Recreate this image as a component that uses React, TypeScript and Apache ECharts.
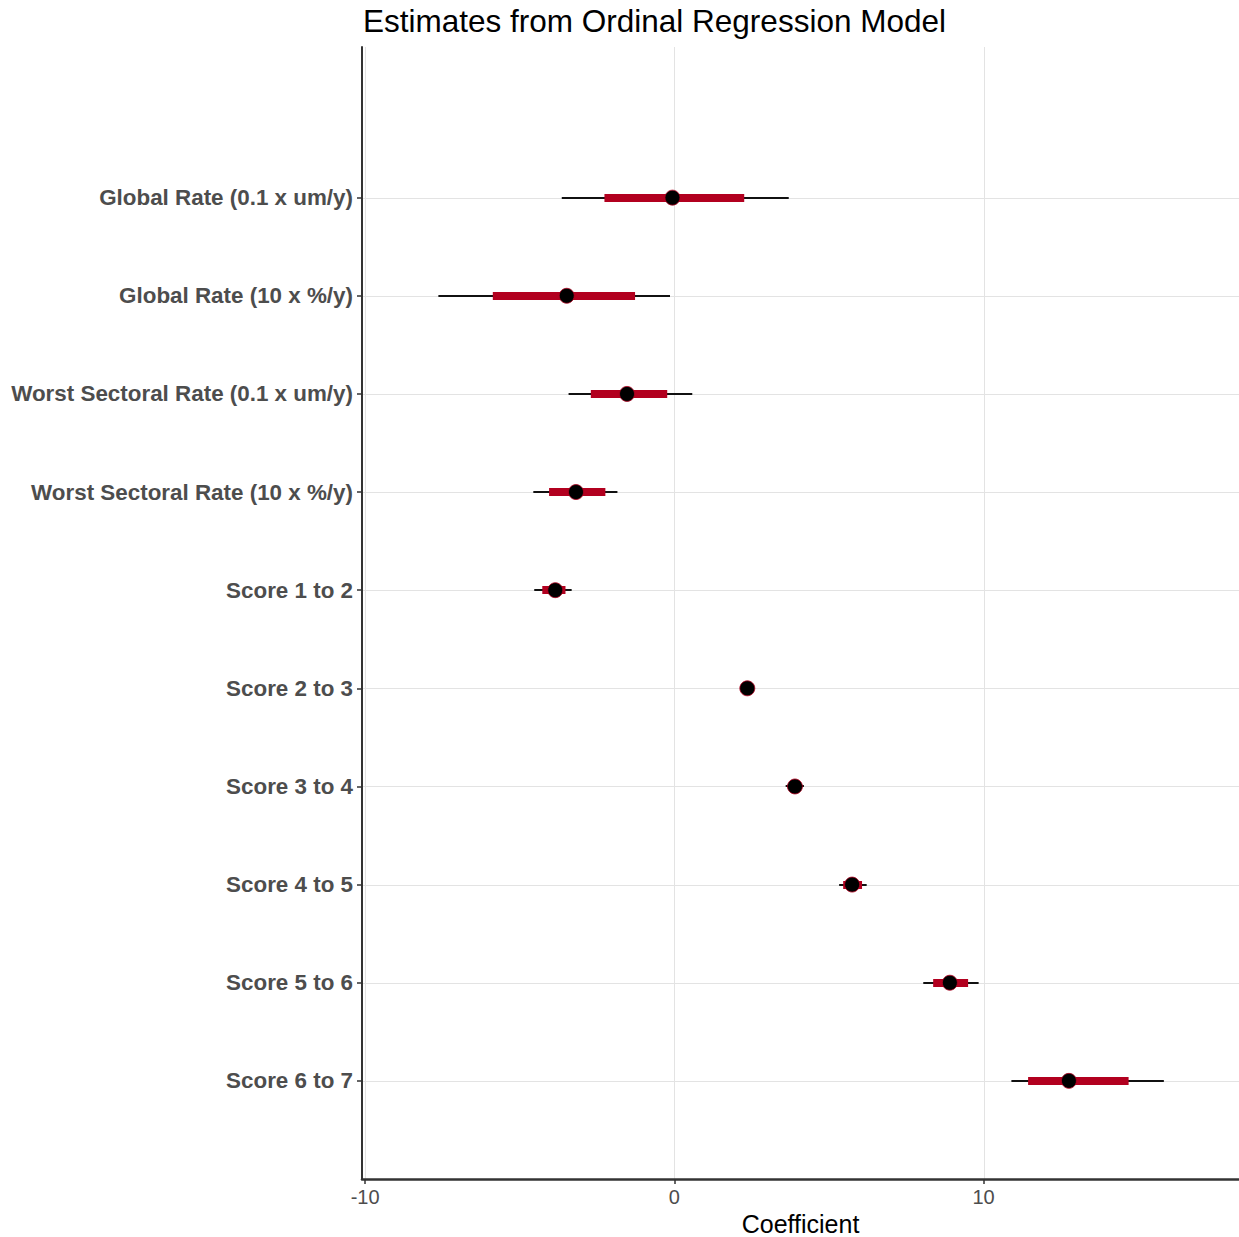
import React, { useEffect, useRef } from "react";
import * as echarts from "echarts";

// Terms listed top to bottom
const terms = [
  "Global Rate (0.1 x um/y)",
  "Global Rate (10 x %/y)",
  "Worst Sectoral Rate (0.1 x um/y)",
  "Worst Sectoral Rate (10 x %/y)",
  "Score 1 to 2",
  "Score 2 to 3",
  "Score 3 to 4",
  "Score 4 to 5",
  "Score 5 to 6",
  "Score 6 to 7",
];
const estimate = [-0.06, -3.48, -1.53, -3.18, -3.85, 2.36, 3.9, 5.75, 8.91, 12.76];
const outerLow = [-3.64, -7.63, -3.42, -4.56, -4.53, 2.24, 3.6, 5.33, 8.05, 10.9];
const outerHigh = [3.7, -0.14, 0.58, -1.84, -3.32, 2.48, 4.19, 6.22, 9.84, 15.83];
const innerLow = [-2.26, -5.87, -2.7, -4.05, -4.27, 2.3, 3.72, 5.46, 8.37, 11.44];
const innerHigh = [2.26, -1.27, -0.23, -2.23, -3.52, 2.42, 4.08, 6.07, 9.5, 14.69];
const xTicks = [-10, 0, 10];

const FONT = "'Liberation Sans', Arial, sans-serif";
const RED = "#b2001f";
const GRID = "#e3e3e3";

export default function App() {
  const ref = useRef<HTMLDivElement>(null);
  useEffect(() => {
    if (!ref.current) return;
    const chart = echarts.init(ref.current, undefined, { renderer: "svg" });
    const n = terms.length;
    const yPos = terms.map((_, i) => n - i);
    const labelMap: Record<number, string> = {};
    yPos.forEach((p, i) => (labelMap[p] = terms[i]));

    const outerData = terms.map((_, i) => [outerLow[i], outerHigh[i], yPos[i]]);
    const innerData = terms.map((_, i) => [innerLow[i], innerHigh[i], yPos[i]]);
    const pointData = terms.map((_, i) => [estimate[i], yPos[i]]);
    // gridline data: [kind, value] kind 0 = horizontal at y, 1 = vertical at x
    const gridData = [...yPos.map((p) => [0, p]), ...xTicks.map((t) => [1, t])];

    chart.setOption({
      animation: false,
      title: {
        text: "Estimates from Ordinal Regression Model",
        left: 363,
        top: 5,
        padding: 0,
        textStyle: { fontFamily: FONT, fontSize: 31.5, fontWeight: "normal", color: "#000" },
      },
      grid: {
        left: 362,
        right: 0,
        top: 47,
        bottom: 58,
        containLabel: false,
        outerBoundsMode: "none",
      },
      xAxis: {
        type: "value",
        min: -10.1,
        max: 18.26,
        name: "Coefficient",
        nameLocation: "middle",
        nameGap: 26,
        nameTextStyle: { fontFamily: FONT, fontSize: 25, color: "#000" },
        axisLine: { show: true, onZero: false, lineStyle: { color: "#333", width: 2.5 } },
        axisTick: { show: true, customValues: xTicks, length: 5, lineStyle: { color: "#333", width: 1.5 } },
        axisLabel: {
          customValues: xTicks,
          fontFamily: FONT,
          fontSize: 20,
          color: "#4d4d4d",
          margin: 8,
        },
        splitLine: { show: false },
      },
      yAxis: {
        type: "value",
        min: 0,
        max: 11.535,
        axisLine: { show: true, onZero: false, lineStyle: { color: "#333", width: 2 } },
        axisTick: { show: true, customValues: yPos, length: 5, lineStyle: { color: "#333", width: 1.5 } },
        axisLabel: {
          customValues: yPos,
          formatter: (v: number) => labelMap[Math.round(v)] || "",
          fontFamily: FONT,
          fontSize: 22.4,
          fontWeight: "bold",
          color: "#4d4d4d",
          margin: 9,
        },
        splitLine: { show: false },
      },
      series: [
        {
          type: "custom",
          silent: true,
          z: 0,
          data: gridData,
          encode: { x: -1, y: -1 },
          clip: true,
          renderItem: (params: any, api: any) => {
            const cs = params.coordSys;
            const kind = api.value(0);
            const v = api.value(1);
            if (kind === 0) {
              const p = api.coord([0, v]);
              const py = Math.round(p[1]) + 0.5;
              return {
                type: "line",
                shape: { x1: cs.x, y1: py, x2: cs.x + cs.width, y2: py },
                style: { stroke: GRID, lineWidth: 1 },
              };
            }
            const p = api.coord([v, 1]);
            const px = Math.round(p[0]) + 0.5;
            return {
              type: "line",
              shape: { x1: px, y1: cs.y, x2: px, y2: cs.y + cs.height },
              style: { stroke: GRID, lineWidth: 1 },
            };
          },
        },
        {
          type: "custom",
          z: 2,
          silent: true,
          data: outerData,
          encode: { x: [0, 1], y: 2 },
          renderItem: (params: any, api: any) => {
            const y = api.value(2);
            const a = api.coord([api.value(0), y]);
            const b = api.coord([api.value(1), y]);
            const py = Math.round(a[1]);
            return {
              type: "rect",
              shape: { x: a[0], y: py - 1, width: b[0] - a[0], height: 2 },
              style: { fill: "#111", stroke: "none", lineWidth: 0 },
            };
          },
        },
        {
          type: "custom",
          z: 3,
          silent: true,
          data: innerData,
          encode: { x: [0, 1], y: 2 },
          renderItem: (params: any, api: any) => {
            const y = api.value(2);
            const c = api.coord([api.value(0), y]);
            const d = api.coord([api.value(1), y]);
            const py = Math.round(c[1]);
            return {
              type: "rect",
              shape: { x: c[0], y: py - 4, width: d[0] - c[0], height: 8 },
              style: { fill: RED, stroke: "none", lineWidth: 0 },
            };
          },
        },
        {
          type: "scatter",
          z: 4,
          silent: true,
          data: pointData,
          symbol: "circle",
          symbolSize: 15,
          itemStyle: { color: "#000", borderColor: RED, borderWidth: 0.8, opacity: 1 },
        },
      ],
    });
    return () => chart.dispose();
  }, []);
  return (
    <div
      ref={ref}
      style={{ position: "fixed", left: 0, top: 0, width: 1239, height: 1237, background: "#fff" }}
    />
  );
}
